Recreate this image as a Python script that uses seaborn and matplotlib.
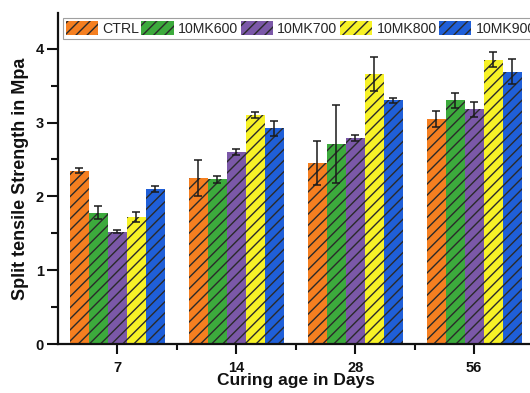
import matplotlib
matplotlib.use("Agg")
import matplotlib.pyplot as plt
import matplotlib.patches as mpatches
import seaborn as sns
import pandas as pd
from matplotlib.ticker import MultipleLocator

days = ["7", "14", "28", "56"]
mixes = ["CTRL", "10MK600", "10MK700", "10MK800", "10MK900"]
ctrl = [2.35, 2.25, 2.45, 3.05]
mk600 = [1.78, 2.23, 2.71, 3.30]
mk700 = [1.52, 2.60, 2.79, 3.18]
mk800 = [1.72, 3.10, 3.66, 3.85]
mk900 = [2.10, 2.92, 3.30, 3.69]
ctrl_err = [0.03, 0.24, 0.30, 0.11]
mk600_err = [0.09, 0.05, 0.53, 0.10]
mk700_err = [0.02, 0.04, 0.04, 0.10]
mk800_err = [0.07, 0.045, 0.23, 0.10]
mk900_err = [0.04, 0.10, 0.03, 0.17]
colors = ["#F57F20", "#3CAA3C", "#7B58A8", "#F7F227", "#1F5FD8"]

values = [ctrl, mk600, mk700, mk800, mk900]
errors = [ctrl_err, mk600_err, mk700_err, mk800_err, mk900_err]
df = pd.DataFrame({
    "Day": [d for _ in mixes for d in days],
    "Mix": [m for m in mixes for _ in days],
    "Strength": [v for vals in values for v in vals],
})

sns.set_style("ticks")
plt.rcParams["font.family"] = ["Liberation Sans", "DejaVu Sans"]
plt.rcParams["hatch.linewidth"] = 1.0

fig = plt.figure(figsize=(5.3, 3.93), dpi=100)
ax = fig.add_axes([58 / 530, 49 / 393, 475.5 / 530, 330.7 / 393])

sns.barplot(data=df, x="Day", y="Strength", hue="Mix", order=days, hue_order=mixes,
            palette=colors, errorbar=None, width=0.8, saturation=1, ax=ax,
            edgecolor="#2a2a2a", linewidth=0, legend=False)

for cont, errs in zip(ax.containers, errors):
    xs = [p.get_x() + p.get_width() / 2 for p in cont]
    hs = [p.get_height() for p in cont]
    for p in cont:
        p.set_hatch("///")
    ax.errorbar(xs, hs, yerr=errs, fmt="none", ecolor="#1a1a1a", elinewidth=1.1,
                capsize=3, capthick=1.1, zorder=5)

ax.set_xlim(-0.5, 3.5)
ax.set_ylim(0, 4.48)
ax.yaxis.set_major_locator(MultipleLocator(1))
ax.yaxis.set_minor_locator(MultipleLocator(0.5))
ax.set_xticks([0.5, 1.5, 2.5], minor=True)

for s in ["top", "right"]:
    ax.spines[s].set_visible(False)
for s in ["left", "bottom"]:
    ax.spines[s].set_linewidth(1.6)
    ax.spines[s].set_color("#111111")

ax.tick_params(axis="y", which="major", length=8, width=1.5, pad=2, labelsize=10.5, colors="#111111")
ax.tick_params(axis="y", which="minor", length=5, width=1.5, colors="#111111")
ax.tick_params(axis="x", which="major", length=7, width=1.5, pad=5, labelsize=10.5, colors="#111111")
ax.tick_params(axis="x", which="minor", length=4, width=1.5, colors="#111111")
for lab in ax.get_xticklabels() + ax.get_yticklabels():
    lab.set_fontweight("bold")

ax.set_xlabel("Curing age in Days", fontsize=12.5, fontweight="bold", labelpad=-1, color="#111111")
ax.set_ylabel("Split tensile Strength in Mpa", fontsize=13, fontweight="bold", labelpad=5, color="#111111")

handles = [mpatches.Patch(facecolor=c, edgecolor="#2a2a2a", linewidth=0, hatch="///") for c in colors]
leg = ax.legend(handles, mixes, ncol=5, loc="upper left", bbox_to_anchor=(0.01, 0.985),
                fontsize=10.2, frameon=True, fancybox=False, borderpad=0.2, borderaxespad=0,
                handlelength=2.3, handleheight=1.15, handletextpad=0.3, columnspacing=0.15)
leg.get_frame().set_edgecolor("#888888")
leg.get_frame().set_linewidth(0.8)

fig.savefig("out.png", dpi=100)
